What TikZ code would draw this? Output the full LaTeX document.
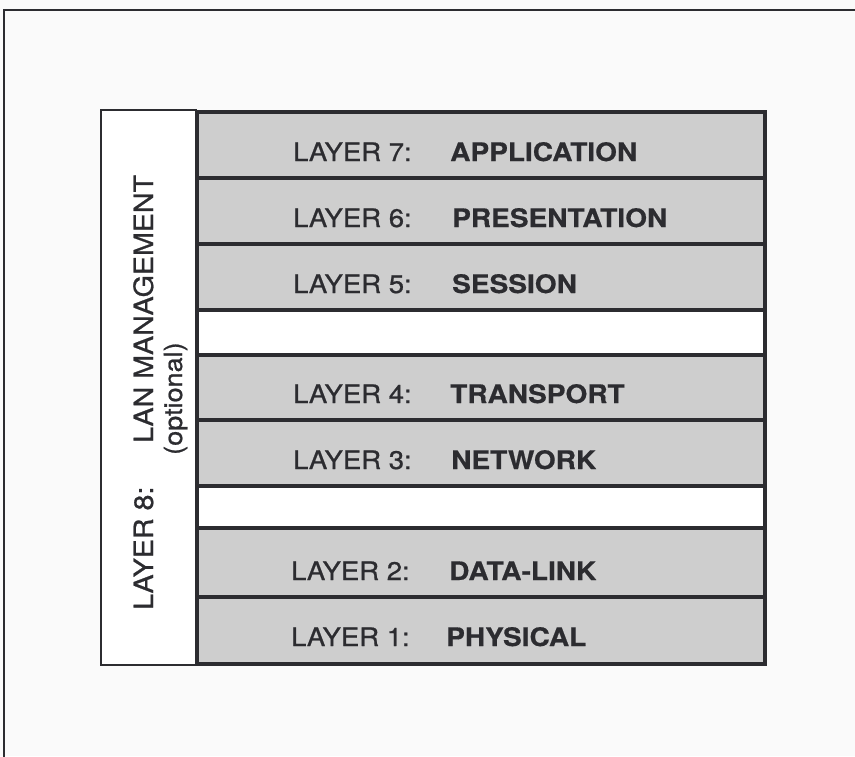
\documentclass[tikz,border=0pt]{standalone}
\usepackage{fontspec}
\setmainfont{TeX Gyre Heros}[FakeStretch=1.08]
\newfontfamily\regf{texgyreheros-regular}[Extension=.otf, FakeStretch=1.08, FakeBold=0.8]
\newfontfamily\boldf{texgyreheros-bold}[Extension=.otf, FakeStretch=1.1, FakeBold=0.5]
\definecolor{ink}{RGB}{44,44,48}
\definecolor{rowgray}{RGB}{206,206,206}
\definecolor{paper}{RGB}{250,250,250}
\begin{document}
\begin{tikzpicture}[x=1pt,y=-1pt,
  rowbox/.style={draw=ink, line width=4.5pt, fill=rowgray, minimum width=568pt, inner sep=0pt},
  gapbox/.style={draw=ink, line width=4.5pt, fill=white, minimum width=568pt, inner sep=0pt},
  lbl/.style={anchor=base west, inner sep=0pt, text=ink, font=\regf\fontsize{25.5}{28}\selectfont},
  bld/.style={lbl, font=\boldf\fontsize{25.5}{28}\selectfont},
  side/.style={lbl, rotate=90, font=\regf\fontsize{26.5}{30}\selectfont},
  sidebox/.style={draw=ink, line width=2pt, fill=white, inner sep=0pt}]
\fill[paper] (0,0) rectangle (855,756);
\useasboundingbox (0,0) rectangle (855,756);
% outer frame (runs off the page at right and bottom)
\coordinate (fa) at (4,760);
\coordinate (fb) at (4,10);
\coordinate (fc) at (860,10);
\draw[ink, line width=2.5pt] (fa) -- (fb) -- (fc);
% layer 8 side box
\node[sidebox, minimum width=95pt, minimum height=555pt] (l8) at (148.5,387.5) {};
% stack rows
\node[rowbox, minimum height=66pt] (r7) at (481,145) {};
\node[rowbox, minimum height=66pt] (r6) at (481,211) {};
\node[rowbox, minimum height=66pt] (r5) at (481,277) {};
\node[gapbox, minimum height=45pt] (g1) at (481,332.5) {};
\node[rowbox, minimum height=65pt] (r4) at (481,387.5) {};
\node[rowbox, minimum height=66pt] (r3) at (481,453) {};
\node[gapbox, minimum height=42pt] (g2) at (481,507) {};
\node[rowbox, minimum height=69pt] (r2) at (481,562.5) {};
\node[rowbox, minimum height=67pt] (r1) at (481,630.5) {};
% labels
\node[lbl] (t7a) at (293,161) {LAYER 7:};
\node[bld] (t7b) at (450,161) {APPLICATION};
\node[lbl] (t6a) at (293,227) {LAYER 6:};
\node[bld] (t6b) at (452,227) {PRESENTATION};
\node[lbl] (t5a) at (293,293) {LAYER 5:};
\node[bld] (t5b) at (452,293) {SESSION};
\node[lbl] (t4a) at (293,403) {LAYER 4:};
\node[bld] (t4b) at (450,403) {TRANSPORT};
\node[lbl] (t3a) at (293,469) {LAYER 3:};
\node[bld] (t3b) at (451,469) {NETWORK};
\node[lbl] (t2a) at (291,580) {LAYER 2:};
\node[bld] (t2b) at (449,580) {DATA-LINK};
\node[lbl] (t1a) at (291,646) {LAYER 1:};
\node[bld] (t1b) at (446,646) {PHYSICAL};
% rotated side labels
\node[side] (s1) at (153,610) {LAYER 8:};
\node[side] (s2) at (153,443) {LAN MANAGEMENT};
\node[side, font=\regf\fontsize{25}{28}\selectfont] (s3) at (182,455) {(optional)};
\end{tikzpicture}
\end{document}
